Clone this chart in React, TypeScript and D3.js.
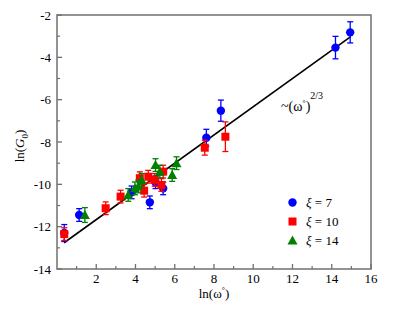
import React from "react";
import * as d3 from "d3";

const xTicks = [2, 4, 6, 8, 10, 12, 14, 16];
const yTicks = [-14, -12, -10, -8, -6, -4, -2];

// ξ = 7 (blue circles): x, y, error
const xi7X = [0.37, 1.13, 3.8, 4.73, 5.02, 5.41, 7.61, 8.35, 14.19, 14.94];
const xi7Y = [-12.3, -11.45, -10.38, -10.85, -9.9, -10.19, -7.8, -6.52, -3.54, -2.82];
const xi7E = [0.4, 0.3, 0.3, 0.3, 0.3, 0.3, 0.4, 0.5, 0.53, 0.5];

// ξ = 10 (red squares)
const xi10X = [0.37, 2.48, 3.24, 4.22, 4.44, 4.65, 4.98, 5.32, 5.41, 7.53, 8.58];
const xi10Y = [-12.35, -11.13, -10.58, -9.71, -10.3, -9.64, -9.79, -10.03, -9.4, -8.27, -7.75];
const xi10E = [0.3, 0.3, 0.3, 0.3, 0.3, 0.3, 0.3, 0.3, 0.3, 0.35, 0.7];

// ξ = 14 (green triangles)
const xi14X = [1.42, 3.63, 3.97, 4.14, 4.31, 5.02, 5.24, 5.87, 6.09];
const xi14Y = [-11.45, -10.5, -10.19, -10.1, -9.79, -9.09, -9.4, -9.56, -9.0];
const xi14E = [0.35, 0.3, 0.3, 0.3, 0.3, 0.3, 0.3, 0.3, 0.3];

const fitX = [0.36, 14.95];
const fitSlope = 2 / 3;
const fitIntercept = -13.0;

const legendLabels = ["7", "10", "14"];
const colors = ["#0000ff", "#ff0000", "#008000"];

const W = 407, H = 315;
const L = 57, R = 371, T = 15, B = 269;
const font = "'Liberation Serif', 'Times New Roman', serif";

export default function App() {
  const x = d3.scaleLinear().domain([0, 16]).range([L, R]);
  const y = d3.scaleLinear().domain([-14, -2]).range([B, T]);

  const series = [
    { xs: xi7X, ys: xi7Y, es: xi7E, shape: "circle", color: colors[0] },
    { xs: xi10X, ys: xi10Y, es: xi10E, shape: "square", color: colors[1] },
    { xs: xi14X, ys: xi14Y, es: xi14E, shape: "triangle", color: colors[2] },
  ];

  const marker = (shape: string, cx: number, cy: number, color: string, key: any) => {
    if (shape === "circle") return <circle key={key} cx={cx} cy={cy} r={4.2} fill={color} />;
    if (shape === "square") return <rect key={key} x={cx - 4} y={cy - 4} width={8} height={8} fill={color} />;
    const s = 5;
    return (
      <path key={key} d={`M${cx},${cy - s}L${cx + s},${cy + s * 0.8}L${cx - s},${cy + s * 0.8}Z`} fill={color} />
    );
  };

  const minorX = d3.range(1, 16, 1).filter((v) => v % 2 !== 0);
  const minorY = d3.range(-13, -2, 1).filter((v) => v % 2 !== 0);
  const axisColor = "#707070";

  const line = d3.line<number>().x((v) => x(v)).y((v) => y(fitIntercept + fitSlope * v));

  return (
    <svg width={W} height={H} style={{ position: "absolute", left: 0, top: 0, background: "#fff" }} fontFamily={font}>
      {/* frame */}
      <rect x={L} y={T} width={R - L} height={B - T} fill="none" stroke={axisColor} strokeWidth={1.5} />
      {/* x ticks */}
      {xTicks.map((v) => (
        <g key={"xt" + v}>
          <line x1={x(v)} x2={x(v)} y1={B} y2={B - 5} stroke={axisColor} strokeWidth={1.3} />
          <text x={x(v)} y={283} textAnchor="middle" fontSize={13}>{v}</text>
        </g>
      ))}
      {minorX.map((v) => (
        <line key={"xm" + v} x1={x(v)} x2={x(v)} y1={B} y2={B - 3} stroke={axisColor} strokeWidth={1.2} />
      ))}
      {/* y ticks */}
      {yTicks.map((v) => (
        <g key={"yt" + v}>
          <line x1={L} x2={L + 5} y1={y(v)} y2={y(v)} stroke={axisColor} strokeWidth={1.3} />
          <text x={51} y={y(v) + 4.5} textAnchor="end" fontSize={13}>{v}</text>
        </g>
      ))}
      {minorY.map((v) => (
        <line key={"ym" + v} x1={L} x2={L + 3} y1={y(v)} y2={y(v)} stroke={axisColor} strokeWidth={1.2} />
      ))}
      {/* axis labels */}
      <text x={(L + R) / 2} y={298} textAnchor="middle" fontSize={13}>
        ln(ω<tspan dy={-5} fontSize={8}>°</tspan><tspan dy={5}>)</tspan>
      </text>
      <text transform={`translate(24,${(T + B) / 2 + 4}) rotate(-90)`} textAnchor="middle" fontSize={13}>
        ln(<tspan fontStyle="italic">G</tspan><tspan dy={4} fontSize={9}>0</tspan><tspan dy={-4}>)</tspan>
      </text>
      {/* fit line */}
      <path d={line(fitX) || ""} fill="none" stroke="#000" strokeWidth={1.6} />
      {/* annotation */}
      <text x={281} y={111} fontSize={14}>
        ~(ω<tspan dy={-5} fontSize={8}>°</tspan><tspan dy={5}>)</tspan>
        <tspan dy={-12} fontSize={10}>2/3</tspan>
      </text>
      {/* data */}
      {series.map((s, si) => (
        <g key={"s" + si}>
          {s.xs.map((xv, i) => {
            const cx = x(xv);
            const y1 = y(s.ys[i] + s.es[i]);
            const y2 = y(s.ys[i] - s.es[i]);
            return (
              <g key={i} stroke={s.color} strokeWidth={1.3}>
                <line x1={cx} x2={cx} y1={y1} y2={y2} />
                <line x1={cx - 3} x2={cx + 3} y1={y1} y2={y1} />
                <line x1={cx - 3} x2={cx + 3} y1={y2} y2={y2} />
              </g>
            );
          })}
          {s.xs.map((xv, i) => marker(s.shape, x(xv), y(s.ys[i]), s.color, "m" + i))}
        </g>
      ))}
      {/* legend */}
      {series.map((s, i) => (
        <g key={"lg" + i}>
          {marker(s.shape, 292.5, 202.5 + i * 19, s.color, "lm" + i)}
          <text x={306} y={207 + i * 19} fontSize={13}>
            <tspan fontStyle="italic">ξ</tspan> = {legendLabels[i]}
          </text>
        </g>
      ))}
    </svg>
  );
}
